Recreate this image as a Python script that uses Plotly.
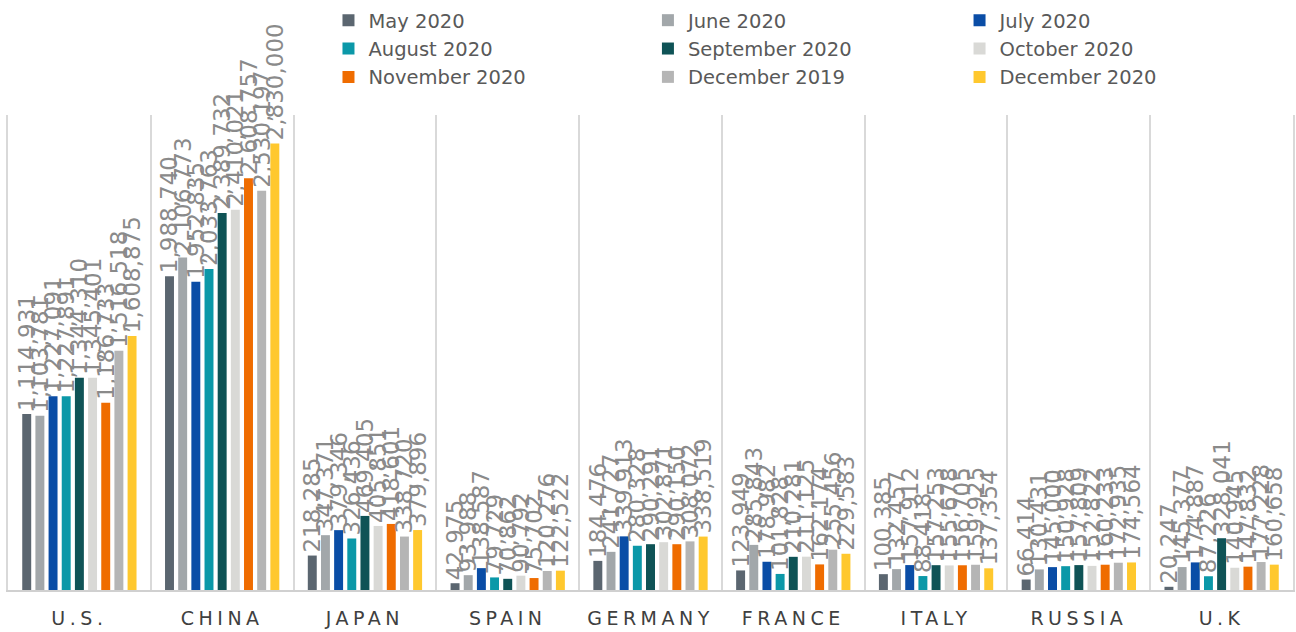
import plotly.graph_objects as go

categories = ["U.S.", "CHINA", "JAPAN", "SPAIN", "GERMANY", "FRANCE", "ITALY", "RUSSIA", "U.K"]

series_names = ["May 2020", "June 2020", "July 2020", "August 2020", "September 2020",
                "October 2020", "November 2020", "December 2019", "December 2020"]

may_2020 = [1114931, 1988740, 218285, 42975, 184476, 123949, 100385, 66414, 20247]
june_2020 = [1103781, 2106773, 347371, 93988, 241727, 285843, 132457, 130431, 145377]
july_2020 = [1227091, 1952835, 379346, 138587, 339913, 178982, 157912, 145000, 174887]
august_2020 = [1227891, 2033763, 326436, 79729, 280328, 101828, 88418, 150928, 87226]
september_2020 = [1344310, 2389732, 469405, 70862, 290291, 210281, 157253, 157809, 328041]
october_2020 = [1345401, 2410021, 405851, 90792, 302871, 211125, 155678, 152822, 140945]
november_2020 = [1186733, 2608757, 418601, 75702, 290150, 162174, 156705, 160233, 147832]
december_2019 = [1516518, 2530197, 338720, 120276, 308072, 255456, 159925, 172935, 177228]
december_2020 = [1608875, 2830000, 379896, 122522, 338519, 229583, 137354, 174564, 160658]

series_values = [may_2020, june_2020, july_2020, august_2020, september_2020,
                 october_2020, november_2020, december_2019, december_2020]

colors = ["#5b6670", "#a2a7aa", "#0a4da6", "#0b98a8", "#0f5356",
          "#d9d9d6", "#ef6c00", "#b5b5b5", "#ffc82e"]

# legend column for each series (three legend columns)
legend_ids = ["legend", "legend2", "legend3", "legend", "legend2", "legend3",
              "legend", "legend2", "legend3"]

FONT = "DejaVu Sans"

fig = go.Figure()
for name, vals, col, lg in zip(series_names, series_values, colors, legend_ids):
    fig.add_trace(go.Bar(
        name=name, x=categories, y=vals,
        marker=dict(color=col, line=dict(width=0)),
        text=[f"{v:,}" for v in vals],
        textposition="outside", textangle=-90,
        constraintext="none", cliponaxis=False,
        textfont=dict(family=FONT, size=23, color="#8a8a8a"),
        legend=lg,
    ))

legend_common = dict(
    orientation="v", yanchor="top", xanchor="left", y=1.24,
    font=dict(family=FONT, size=19.5, color="#595959"),
    bgcolor="rgba(0,0,0,0)", itemwidth=30, tracegroupgap=0,
    traceorder="normal", itemclick=False,
)

fig.update_layout(
    width=1296, height=632,
    margin=dict(l=8, r=1, t=108, b=42),
    paper_bgcolor="white", plot_bgcolor="white",
    barmode="group", bargap=0.17, bargroupgap=0.32,
    showlegend=True,
    legend=dict(x=0.2494, **legend_common),
    legend2=dict(x=0.498, **legend_common),
    legend3=dict(x=0.7405, **legend_common),
    xaxis=dict(
        type="category", tickson="boundaries", showgrid=True,
        gridcolor="#d9d9d9", gridwidth=2,
        showline=True, linecolor="#d0d0d0", linewidth=2,
        ticks="", ticklabelstandoff=10,
        tickfont=dict(family=FONT, size=19, color="#404040"),
        mirror=False,
    ),
    yaxis=dict(range=[0, 3010000], showticklabels=False, ticks="",
               showgrid=False, zeroline=False,
               showline=True, linecolor="#d9d9d9", linewidth=2, mirror=True),
)

post = (
    "document.body.style.margin='0';"
    "var st=document.createElement('style');"
    "st.textContent='.xtick text{letter-spacing:4.5px;}';"
    "document.head.appendChild(st);"
)

fig.write_html("out.html", post_script=post, config={"displayModeBar": False})
